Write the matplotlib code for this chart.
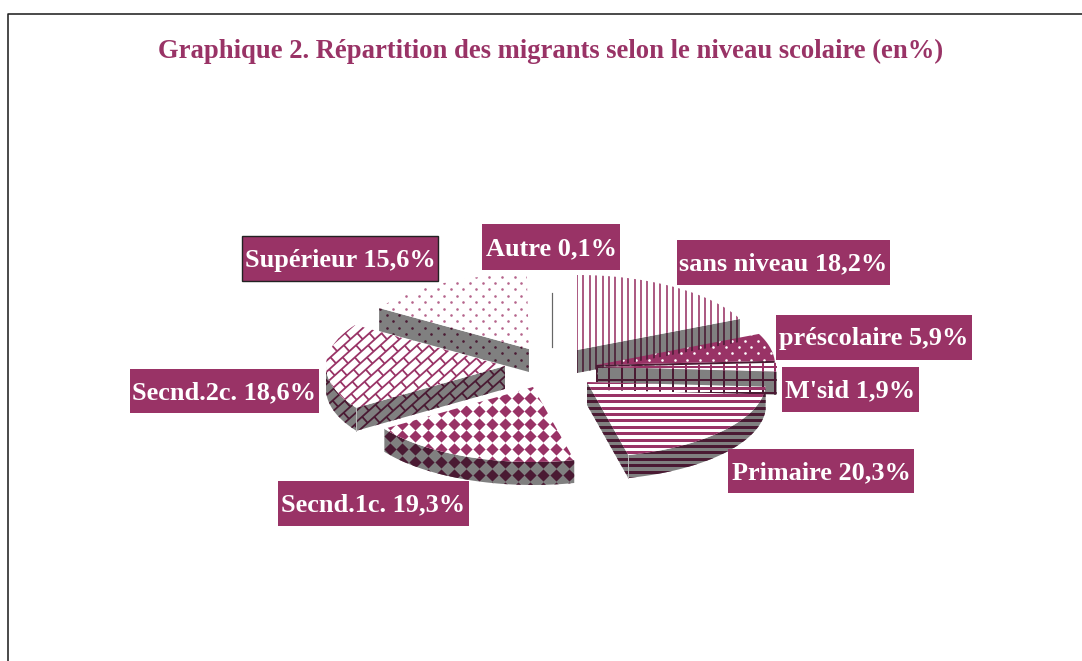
"""Graphique 2 - camembert 3D eclate, niveau scolaire des migrants"""
import matplotlib
matplotlib.use('Agg')
import matplotlib.pyplot as plt
from matplotlib.collections import LineCollection
from matplotlib.patches import Polygon, Rectangle
import numpy as np

plt.rcParams['font.family'] = ['Liberation Serif', 'DejaVu Serif']

# data
niveaux = ['sans niveau', 'préscolaire', "M'sid", 'Primaire', 'Secnd.1c.',
           'Secnd.2c.', 'Supérieur', 'Autre']
parts = [18.2, 5.9, 1.9, 20.3, 19.3, 18.6, 15.6, 0.1]

# layout, all in image pixels
centres = [(577, 350), (596, 365), (598, 367), (587, 382),
           (533, 387), (505, 366), (529, 349), (552, 324)]
motifs = ['vlines', 'dots_white', 'grid', 'hlines', 'diamonds', 'bricks', 'dots', 'vlines']
boites = [(677, 240, 213, 45), (776, 315, 196, 45), (782, 367, 137, 45),
          (728, 449, 186, 44), (278, 481, 191, 45), (130, 369, 189, 44),
          (242, 236, 196, 45), (482, 224, 138, 46)]
ordre = [6, 7, 0, 1, 2, 3, 5, 4]   # back to front
RX, RY, DEPTH = 179, 75, 23

MAUVE = '#993366'
SOMBRE = '#4a1a33'
GRIS = '#808080'
PX = 0.72  # one pixel in points

fig = plt.figure(figsize=(10.82, 6.61), dpi=100)
ax = fig.add_axes([0, 0, 1, 1])
ax.set_xlim(0, 1082)
ax.set_ylim(661, 0)
ax.axis('off')


def rim(c, a, b, n=60):
    t = np.radians(np.linspace(a, b, n))
    return np.column_stack([c[0] + RX * np.sin(t), c[1] - RY * np.cos(t)])


def grille(lo, hi, step, phase):
    """Positions lo..hi on a fixed lattice, so top and wall line up"""
    first = lo - (lo - phase) % step
    return np.arange(first, hi, step)


def draw_pattern(patch, motif, fg):
    """Fill the bounding box with the motif, clipped to the patch"""
    pts = patch.get_xy()
    x0, y0 = np.floor(pts.min(axis=0)) - 14
    x1, y1 = np.ceil(pts.max(axis=0)) + 14
    art = []
    if motif == 'vlines':
        segs = [[(x, y0), (x, y1)] for x in grille(x0, x1, 6.4, 1.0)]
        art.append(ax.add_collection(LineCollection(segs, colors=fg, linewidths=2 * PX, alpha=0.8)))
    elif motif == 'hlines':
        segs = [[(x0, y), (x1, y)] for y in grille(y0, y1, 6.4, 4.4)]
        art.append(ax.add_collection(LineCollection(segs, colors=fg, linewidths=3 * PX)))
    elif motif == 'grid':
        segs = [[(x, y0), (x, y1)] for x in grille(x0, x1, 12.8, 7.4)]
        segs += [[(x0, y), (x1, y)] for y in grille(y0, y1, 12.8, 8.8)]
        art.append(ax.add_collection(LineCollection(segs, colors=fg, linewidths=2 * PX)))
    elif motif == 'diamonds':
        xs, ys = np.meshgrid(grille(x0, x1, 12.8, 5.6), grille(y0, y1, 12.8, 1.1))
        art.append(ax.scatter(xs.ravel(), ys.ravel(), marker='D', s=(8.6 * PX) ** 2, color=fg, linewidths=0))
    elif motif in ('dots', 'dots_white'):
        xs, ys = [], []
        for y in grille(y0, y1, 6.4, 1.5):
            impair = round((y - 1.5) / 6.4) % 2
            row = grille(x0, x1, 12.8, 2.6 if impair else 9.0)
            xs += list(row)
            ys += [y] * len(row)
        art.append(ax.scatter(xs, ys, marker='o', s=(2.6 * PX) ** 2, color=fg, linewidths=0))
    elif motif == 'bricks':
        co, si = np.cos(np.radians(42)), np.sin(np.radians(42))
        segs = []
        size = x1 - x0 + y1 - y0
        mx, my = (x0 + x1) / 2, (y0 + y1) / 2
        for j, v in enumerate(np.arange(-size, size, 8.2)):
            segs.append([(-size, v), (size, v)])
            for u in np.arange(-size + 9 * (j % 2), size, 18):
                segs.append([(u, v), (u, v + 8.2)])
        segs = [[(mx + u * co + v * si, my - u * si + v * co) for u, v in s] for s in segs]
        art.append(ax.add_collection(LineCollection(segs, colors=fg, linewidths=1.8 * PX)))
    for a in art:
        a.set_clip_path(patch)


def draw_face(pts, motif, bg, fg):
    patch = Polygon(pts, closed=True, facecolor=bg, edgecolor='none')
    ax.add_patch(patch)
    draw_pattern(patch, motif, fg)


def draw_wall(pts, motif):
    pts = np.asarray(pts)
    low = pts[::-1] + [0, DEPTH]
    bg, fg = (SOMBRE, GRIS) if motif == 'dots_white' else (GRIS, SOMBRE)
    draw_face(np.vstack([pts, low]), motif, bg, fg)


# frame
ax.plot([8, 8, 1082], [661, 14, 14], color='#222222', lw=1.6 * PX)

angles = np.concatenate([[0], np.cumsum(parts)]) * 3.6
for i in ordre:
    a, b = angles[i], angles[i + 1]
    c = centres[i]
    motif = motifs[i]
    if niveaux[i] == 'Autre':
        # too thin to show anything but a hairline
        ax.plot([c[0], c[0]], [c[1] - 31, c[1] + DEPTH], color='#666666', lw=1.2 * PX)
        continue
    # walls turned towards the viewer
    if np.sin(np.radians(b)) > 0:
        end = rim(c, b, b, 1)
        draw_wall(np.vstack([[c], end]), motif)
    if np.sin(np.radians(a)) < 0:
        start = rim(c, a, a, 1)
        draw_wall(np.vstack([[c], start]), motif)
    lo, hi = max(a, 90), min(b, 270)
    if hi > lo:
        draw_wall(rim(c, lo, hi), motif)
        corner = rim(c, b if b < 180 else a, b if b < 180 else a, 1)[0]
        if a > 90 and b < 180 or a > 180:
            ax.plot([corner[0]] * 2, [corner[1], corner[1] + DEPTH], color='#bbbbbb', lw=1 * PX)
    # top face
    top = np.vstack([[c], rim(c, a, b)])
    if motif == 'dots_white':
        draw_face(top, motif, MAUVE, 'white')
    elif motif == 'dots':
        draw_face(top, motif, 'white', '#b5648c')
    else:
        draw_face(top, motif, 'white', MAUVE)

# labels
for nom, val, (x, y, w, h) in zip(niveaux, parts, boites):
    edge = '#222222' if nom == 'Supérieur' else 'none'
    ax.add_patch(Rectangle((x, y), w, h, facecolor=MAUVE, edgecolor=edge, lw=1, zorder=5))
    txt = nom + ' ' + f'{val:.1f}'.replace('.', ',') + '%'
    ax.text(x + w / 2, y + h / 2 + 1.5, txt, ha='center', va='center', color='white',
            fontsize=18.9, fontweight='bold', zorder=6)

ax.text(551, 51.5, 'Graphique 2. Répartition des migrants selon le niveau scolaire (en%)',
        ha='center', va='center', color=MAUVE, fontsize=19.2, fontweight='bold')

fig.savefig('out.png', dpi=100)
